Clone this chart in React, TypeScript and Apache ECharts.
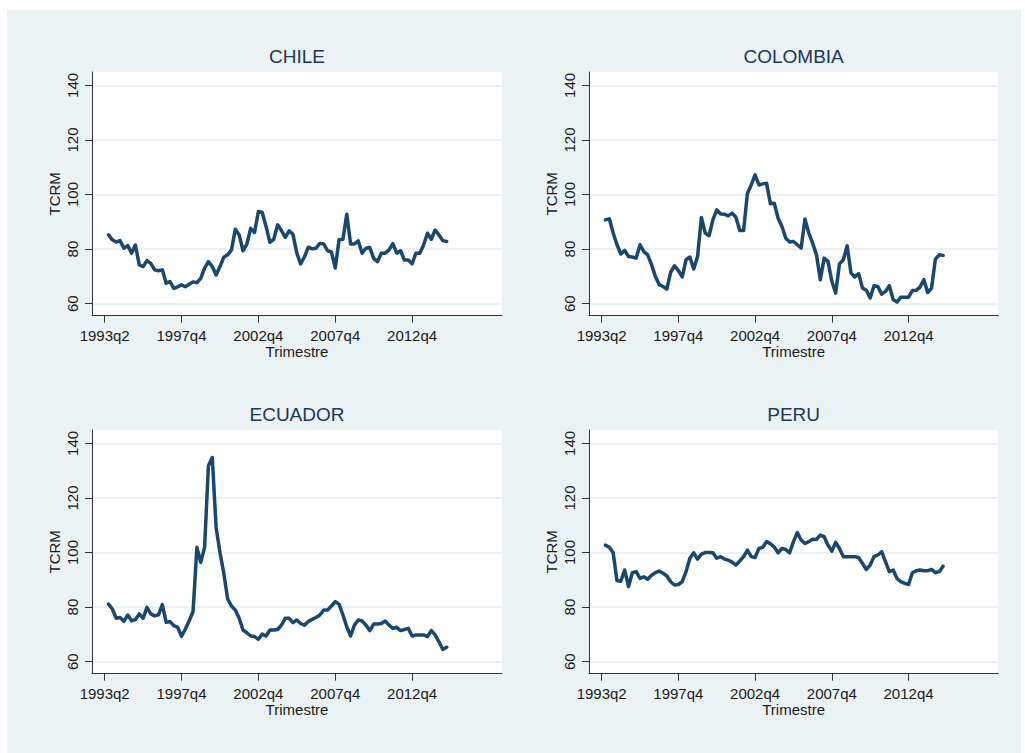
import React, { useEffect, useRef } from "react";
import * as echarts from "echarts";

const xTickValues = [0, 20, 40, 60, 80];
const xTickLabels = ["1993q2", "1997q4", "2002q4", "2007q4", "2012q4"];
const yTickValues = [60, 80, 100, 120, 140];
const firstQuarterIndex = 1;

const chile = [
  85.2, 83.4, 82.6, 83.1, 80.3, 81.3, 78.5, 81.5, 74.2, 73.6,
  75.8, 74.8, 72.4, 72.1, 72.4, 67.5, 68.1, 65.6, 66.2, 66.9,
  66.2, 67.1, 68.0, 67.7, 69.3, 73.0, 75.4, 73.6, 70.5, 73.6,
  77.0, 77.9, 79.7, 87.3, 85.2, 79.4, 81.8, 87.6, 86.1, 93.8,
  93.4, 88.3, 82.5, 83.6, 88.9, 86.8, 84.3, 86.7, 85.4, 78.5,
  74.6, 77.2, 80.7, 80.1, 80.3, 82.1, 81.9, 79.4, 79.0, 73.1,
  83.4, 83.6, 92.8, 81.9, 81.9, 83.0, 78.5, 80.3, 80.6, 76.6,
  75.4, 78.5, 78.5, 79.7, 82.0, 78.5, 79.4, 76.0, 76.0, 74.6,
  78.5, 78.5, 81.5, 85.8, 83.6, 87.0, 85.2, 83.1, 82.8,
];

const colombia = [
  90.7, 91.1, 85.9, 81.6, 78.2, 79.5, 77.3, 77.1, 76.7, 81.6,
  79.1, 77.9, 74.3, 70.0, 67.0, 66.3, 65.4, 71.6, 73.9, 72.1,
  69.8, 76.1, 77.1, 72.7, 77.3, 91.6, 85.9, 84.9, 90.7, 94.4,
  92.9, 92.8, 92.2, 93.2, 91.7, 86.8, 86.8, 100.5, 103.5, 107.2,
  103.5, 103.9, 104.1, 96.6, 96.8, 91.3, 88.3, 84.0, 82.6, 82.8,
  81.6, 80.4, 91.0, 85.9, 82.2, 77.9, 68.8, 76.7, 75.5, 68.2,
  63.9, 74.6, 76.1, 81.2, 71.2, 69.8, 71.0, 65.7, 64.9, 62.1,
  66.6, 66.3, 63.5, 64.5, 66.6, 61.5, 60.6, 62.4, 62.4, 62.4,
  64.8, 64.9, 66.1, 68.8, 64.1, 65.7, 76.3, 77.9, 77.7,
];

const ecuador = [
  81.1, 79.3, 75.9, 76.2, 74.8, 77.1, 75.0, 75.4, 77.5, 75.9,
  79.9, 77.5, 76.8, 77.2, 80.9, 74.4, 74.7, 73.2, 72.6, 69.3,
  72.0, 75.0, 78.4, 101.9, 96.4, 101.9, 131.8, 134.8, 109.2, 100.0,
  92.4, 83.0, 80.4, 78.9, 75.9, 71.6, 70.6, 69.4, 69.2, 68.2,
  70.1, 69.4, 71.6, 71.6, 71.8, 73.4, 75.9, 75.9, 74.3, 75.3,
  74.0, 73.4, 74.7, 75.5, 76.2, 77.1, 78.9, 78.9, 80.4, 82.0,
  81.1, 77.1, 72.8, 69.4, 73.4, 75.3, 74.9, 73.4, 71.4, 73.8,
  73.8, 74.0, 74.9, 73.4, 72.2, 72.6, 71.4, 71.8, 72.2, 69.4,
  69.8, 69.8, 69.8, 69.2, 71.4, 69.8, 67.3, 64.5, 65.3,
];

const peru = [
  102.7, 101.9, 99.9, 89.7, 89.5, 93.6, 87.5, 92.6, 93.0, 90.5,
  91.1, 90.2, 91.7, 92.6, 93.2, 92.4, 91.4, 89.3, 88.1, 88.3,
  89.3, 93.0, 97.9, 99.9, 97.6, 99.4, 100.0, 100.0, 99.9, 97.9,
  98.5, 97.6, 97.2, 96.5, 95.4, 96.9, 98.5, 100.9, 98.5, 98.2,
  101.5, 101.9, 104.0, 103.2, 102.0, 99.9, 101.5, 101.1, 99.9, 104.0,
  107.3, 104.6, 103.3, 104.0, 104.9, 104.8, 106.4, 105.8, 102.7, 100.5,
  103.7, 101.5, 98.5, 98.5, 98.5, 98.5, 98.1, 96.0, 93.8, 95.4,
  98.5, 99.1, 100.3, 96.6, 93.0, 93.6, 90.5, 89.3, 88.7, 88.3,
  92.6, 93.3, 93.6, 93.3, 93.3, 93.8, 92.6, 93.0, 95.0,
];

const panelNames = ["CHILE", "COLOMBIA", "ECUADOR", "PERU"];
const panelSeries = [chile, colombia, ecuador, peru];

const layout = [
  { left: 92, top: 72, width: 410 },
  { left: 589, top: 72, width: 409.3 },
  { left: 92, top: 430, width: 410 },
  { left: 589, top: 430, width: 409.3 },
];
const plotHeight = 243.7;
const FONT = "'Liberation Sans', Arial, Helvetica, sans-serif";
const LINE_COLOR = "#1a476f";
const AXIS_COLOR = "#333333";
const BG = "#eaf2f3";

export default function App() {
  const ref = useRef<HTMLDivElement>(null);

  useEffect(() => {
    if (!ref.current) return;
    const chart = echarts.init(ref.current, undefined, { renderer: "svg" });

    const grids = layout.map((l) => ({
      left: l.left,
      top: l.top,
      width: l.width,
      height: plotHeight,
      show: true,
      backgroundColor: "#ffffff",
      borderWidth: 0,
      containLabel: false,
    }));

    const xAxes = layout.map((_, i) => ({
      type: "value",
      gridIndex: i,
      min: -3.3,
      max: 103.4,
      name: "Trimestre",
      nameLocation: "middle",
      nameGap: 27,
      nameTextStyle: { fontFamily: FONT, fontSize: 15, color: "#1a1a1a" },
      axisLine: { show: true, onZero: false, lineStyle: { color: AXIS_COLOR, width: 1 } },
      axisTick: {
        show: true,
        customValues: xTickValues,
        length: 7,
        lineStyle: { color: AXIS_COLOR, width: 1 },
      },
      axisLabel: {
        show: true,
        customValues: xTickValues,
        margin: 12,
        fontFamily: FONT,
        fontSize: 15,
        color: "#1a1a1a",
        formatter: (v: number) => xTickLabels[xTickValues.indexOf(Math.round(v))] ?? "",
      },
      splitLine: { show: false },
    }));

    const yAxes = layout.map((_, i) => ({
      type: "value",
      gridIndex: i,
      min: 55.6,
      max: 144.9,
      name: "TCRM",
      nameLocation: "middle",
      nameGap: 30,
      nameRotate: 90,
      nameTextStyle: { fontFamily: FONT, fontSize: 15, color: "#1a1a1a" },
      axisLine: { show: true, onZero: false, lineStyle: { color: AXIS_COLOR, width: 1 } },
      axisTick: {
        show: true,
        customValues: yTickValues,
        length: 7,
        lineStyle: { color: AXIS_COLOR, width: 1 },
      },
      axisLabel: {
        show: true,
        customValues: yTickValues,
        rotate: 90,
        margin: 12,
        fontFamily: FONT,
        fontSize: 15,
        color: "#1a1a1a",
      },
      splitLine: { show: true, lineStyle: { color: "#e5eef1", width: 1.5 } },
    }));

    const series = panelSeries.map((vals, i) => ({
      type: "line",
      name: panelNames[i],
      xAxisIndex: i,
      yAxisIndex: i,
      showSymbol: false,
      symbol: "none",
      lineStyle: { color: LINE_COLOR, width: 3.5, cap: "round", join: "round" },
      data: vals.map((v, k) => [k + firstQuarterIndex, v]),
    }));

    const titles = panelNames.map((name, i) => ({
      type: "text",
      z: 10,
      style: {
        text: name,
        x: layout[i].left + layout[i].width / 2,
        y: layout[i].top - 25,
        textAlign: "center",
        textVerticalAlign: "top",
        fontFamily: FONT,
        fontSize: 19,
        fill: "#1e3658",
      },
    }));

    chart.setOption({
      animation: false,
      backgroundColor: "#ffffff",
      grid: grids,
      xAxis: xAxes,
      yAxis: yAxes,
      series,
      graphic: [
        {
          type: "rect",
          z: -10,
          shape: { x: 7, y: 10, width: 1014, height: 743 },
          style: { fill: BG },
        },
        ...titles,
      ],
    });

    return () => chart.dispose();
  }, []);

  return (
    <div
      ref={ref}
      style={{ position: "absolute", left: 0, top: 0, width: 1025, height: 753 }}
    />
  );
}
